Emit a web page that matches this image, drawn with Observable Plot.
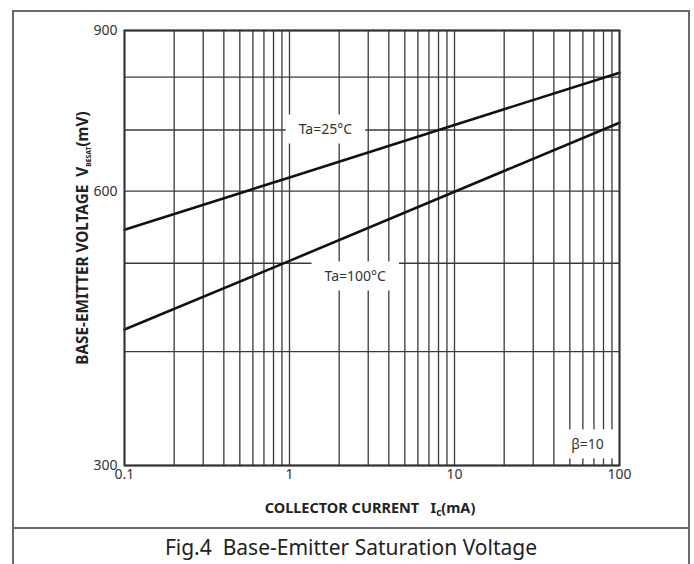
<!DOCTYPE html>
<html>
<head>
<meta charset="utf-8">
<script src="https://cdn.jsdelivr.net/npm/d3@7"></script>
<script src="https://cdn.jsdelivr.net/npm/@observablehq/plot@0.6"></script>
<style>
  html, body { margin: 0; padding: 0; background: #fff; width: 694px; height: 564px; overflow: hidden; }
  #frame { position: absolute; left: 12px; top: 10px; width: 674px; height: 600px; border: 2px solid #6a6a6a; }
  #sep { position: absolute; left: 12px; top: 527px; width: 678px; height: 0; border-top: 2px solid #6a6a6a; }
  #chart { position: absolute; left: 0; top: 0; }
  #caption { position: absolute; left: 12px; width: 678px; top: 534px; text-align: center;
             font-family: 'Noto Sans', sans-serif; font-size: 21px; color: #222; line-height: 26px; }
</style>
</head>
<body>
<div id="frame"></div>
<div id="sep"></div>
<div id="chart"></div>
<div id="caption">Fig.4&nbsp; Base-Emitter Saturation Voltage</div>
<script>
// Data
const ic = [0.1, 1, 10, 100];                 // collector current, mA
const vbe25 = [544, 621, 709, 809];           // V_BE(sat) mV at Ta=25°C
const vbe100 = [423, 503, 599, 713];          // V_BE(sat) mV at Ta=100°C
const xTicks = [0.1, 1, 10, 100];
const yTicks = [300, 600, 900];
const yGrid = [300, 400, 500, 600, 700, 800, 900];
const xGrid = [0.1, 1, 10].flatMap(d => [1,2,3,4,5,6,7,8,9].map(k => +(d * k).toPrecision(3))).concat([100]);
const labelText = ["Ta=25°C", "Ta=100°C", "β=10"];
const labelX = [1.65, 2.5, 64];
const labelY = [700, 483, 316];

const rows = [
  ...ic.map((x, i) => ({x, y: vbe25[i], s: "25"})),
  ...ic.map((x, i) => ({x, y: vbe100[i], s: "100"}))
];
const labels = labelText.map((t, i) => ({t, x: labelX[i], y: labelY[i]}));

const plot = Plot.plot({
  width: 694, height: 527,
  marginTop: 30, marginBottom: 62, marginLeft: 124, marginRight: 75,
  style: {fontFamily: "'Noto Sans', sans-serif", fontSize: "14px", color: "#333", background: "transparent"},
  x: {type: "log", domain: [0.1, 100], axis: null},
  y: {type: "log", domain: [300, 900], axis: null},
  marks: [
    Plot.ruleX(xGrid, {stroke: "#3a3a3a", strokeWidth: 1.3}),
    Plot.ruleY(yGrid, {stroke: "#3a3a3a", strokeWidth: 1.3}),
    // tick labels
    Plot.text(xTicks, {x: d => d, frameAnchor: "bottom", dy: 13, text: d => String(d), fontSize: 14, fill: "#333"}),
    Plot.text(yTicks, {y: d => d, frameAnchor: "left", dx: -7, textAnchor: "end", text: d => String(d), fontSize: 14, fill: "#333"}),
    Plot.text(labels, {x: "x", y: "y", text: "t", fontSize: 14, fill: "#333"}),
    Plot.line(rows, {x: "x", y: "y", z: "s", stroke: "#111", strokeWidth: 2.6}),
    Plot.frame({stroke: "#333", strokeWidth: 2})
  ]
});
document.getElementById("chart").appendChild(plot);

const svg = d3.select(plot);
// white boxes behind the in-chart labels
svg.selectAll("text").each(function() {
  if (!labelText.includes(this.textContent)) return;
  const b = this.getBBox();
  const padX = 13, padY = 6;
  const ns = "http://www.w3.org/2000/svg";
  const r = document.createElementNS(ns, "rect");
  r.setAttribute("x", b.x - padX);
  r.setAttribute("y", b.y - padY + 1);
  r.setAttribute("width", b.width + 2 * padX);
  r.setAttribute("height", b.height + 2 * padY - 2);
  r.setAttribute("fill", "white");
  r.setAttribute("stroke", "none");
  const tr = this.getAttribute("transform");
  if (tr) r.setAttribute("transform", tr);
  this.parentNode.insertBefore(r, this);
});

// axis titles
const xt = svg.append("text")
  .attr("x", 370).attr("y", 513)
  .attr("text-anchor", "middle")
  .attr("font-family", "'Noto Sans', sans-serif").attr("font-weight", "bold")
  .attr("font-size", 14.5).attr("fill", "#222");
xt.append("tspan").text("COLLECTOR CURRENT\u00a0\u00a0\u00a0I");
xt.append("tspan").attr("font-size", 10).attr("dy", 3).text("c");
xt.append("tspan").attr("dy", -3).text("(mA)");

const yt = svg.append("text")
  .attr("transform", "translate(88,238) rotate(-90)")
  .attr("text-anchor", "middle")
  .attr("font-family", "'Noto Sans', sans-serif").attr("font-weight", "bold")
  .attr("font-size", 15.3).attr("fill", "#222");
yt.append("tspan").text("BASE-EMITTER VOLTAGE\u00a0\u00a0V");
yt.append("tspan").attr("font-size", 6.8).attr("dy", 3).text("BESAT");
yt.append("tspan").attr("dy", -3).text("(mV)");
</script>
</body>
</html>
